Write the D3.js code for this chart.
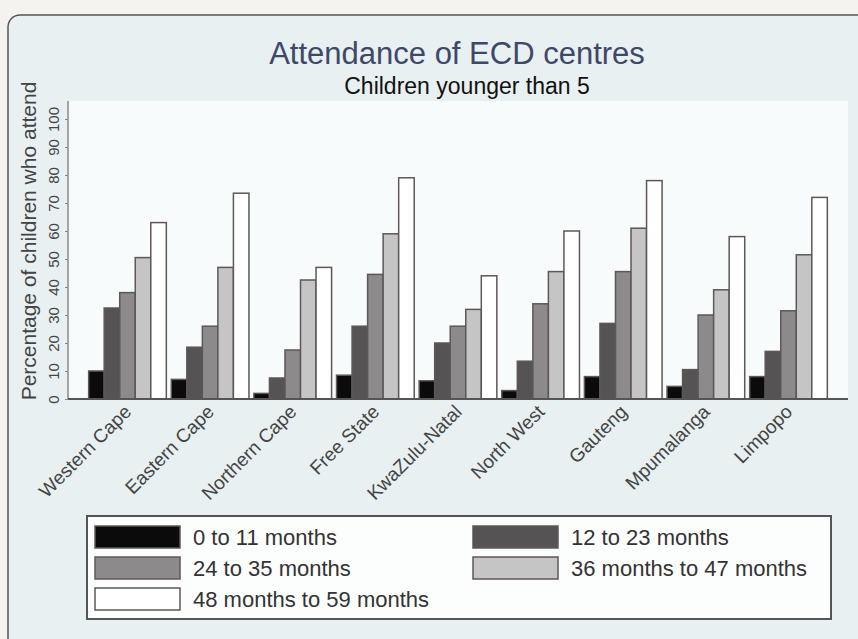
<!DOCTYPE html>
<html>
<head>
<meta charset="utf-8">
<script src="https://cdn.jsdelivr.net/npm/d3@7"></script>
<style>
  html, body { margin: 0; padding: 0; background: #f4f3f0; }
  svg { display: block; }
  text { font-family: "Liberation Sans", Arial, Helvetica, sans-serif; }
</style>
</head>
<body>
<svg id="chart" width="858" height="639"></svg>
<script>
const categories = ["Western Cape", "Eastern Cape", "Northern Cape", "Free State", "KwaZulu-Natal", "North West", "Gauteng", "Mpumalanga", "Limpopo"];
const seriesNames = ["0 to 11 months", "12 to 23 months", "24 to 35 months", "36 months to 47 months", "48 months to 59 months"];
const months0to11 = [10, 7, 2, 8.5, 6.5, 3, 8, 4.5, 8];
const months12to23 = [32.5, 18.5, 7.5, 26, 20, 13.5, 27, 10.5, 17];
const months24to35 = [38, 26, 17.5, 44.5, 26, 34, 45.5, 30, 31.5];
const months36to47 = [50.5, 47, 42.5, 59, 32, 45.5, 61, 39, 51.5];
const months48to59 = [63, 73.5, 47, 79, 44, 60, 78, 58, 72];
const yTicks = [0, 10, 20, 30, 40, 50, 60, 70, 80, 90, 100];
const seriesColors = ["#0b0b0b", "#555353", "#8c8a8a", "#c6c5c5", "#ffffff"];

const seriesValues = [months0to11, months12to23, months24to35, months36to47, months48to59];

const svg = d3.select("#chart");

// page / frame
svg.append("rect").attr("x", 0).attr("y", 0).attr("width", 858).attr("height", 639).attr("fill", "#f4f3f0");
svg.append("rect").attr("x", 8).attr("y", 15).attr("width", 900).attr("height", 700)
  .attr("rx", 12).attr("fill", "#e8f0f2").attr("stroke", "#555").attr("stroke-width", 1.5);

const plotLeft = 68, plotRight = 848, plotTop = 101, plotBottom = 399;

// plot region
svg.append("rect").attr("x", plotLeft).attr("y", plotTop).attr("width", plotRight - plotLeft).attr("height", plotBottom - plotTop)
  .attr("fill", "#f8fbfb");

const x0 = d3.scaleBand().domain(categories).range([plotLeft, plotRight]).paddingInner(0.06).paddingOuter(0.25);
const x1 = d3.scaleBand().domain(d3.range(seriesNames.length)).range([0, x0.bandwidth()]);
const y = d3.scaleLinear().domain([0, 100]).range([plotBottom, 119]);

// bars
const groups = svg.append("g").selectAll("g").data(categories).join("g")
  .attr("transform", d => `translate(${x0(d)},0)`);
groups.selectAll("rect").data((c, i) => seriesValues.map((s, k) => ({ k, v: s[i] }))).join("rect")
  .attr("x", d => x1(d.k))
  .attr("width", x1.bandwidth())
  .attr("y", d => y(d.v))
  .attr("height", d => y(0) - y(d.v))
  .attr("fill", d => seriesColors[d.k])
  .attr("stroke", "#5f5757")
  .attr("stroke-width", 1.5);

// y axis
const yAxis = svg.append("g").attr("transform", `translate(${plotLeft},0)`)
  .call(d3.axisLeft(y).tickValues(yTicks).tickSize(3).tickPadding(4));
yAxis.select(".domain").attr("d", `M0,${plotTop}V${plotBottom}`).attr("stroke", "#8a8a8a").attr("stroke-width", 1.5);
yAxis.selectAll(".tick line").attr("stroke", "#8a8a8a");
yAxis.selectAll(".tick text")
  .attr("font-size", 15).attr("fill", "#444")
  .attr("text-anchor", "middle")
  .attr("x", 0).attr("dy", 0)
  .attr("transform", "translate(-9,0) rotate(-90)");

// x baseline
const xAxis = svg.append("g").attr("transform", `translate(0,${plotBottom})`)
  .call(d3.axisBottom(x0).tickSize(0).tickPadding(0));
xAxis.select(".domain").attr("d", `M${plotLeft},0H${plotRight}`).attr("stroke", "#555").attr("stroke-width", 2);
xAxis.selectAll(".tick text")
  .attr("font-size", 19).attr("fill", "#444")
  .attr("text-anchor", "end")
  .attr("y", 0).attr("dy", 0)
  .attr("transform", "translate(5,14) rotate(-45)");

// titles
svg.append("text").attr("x", 457).attr("y", 64).attr("text-anchor", "middle")
  .attr("font-size", 31).attr("fill", "#3e4868").text("Attendance of ECD centres");
svg.append("text").attr("x", 467).attr("y", 94).attr("text-anchor", "middle")
  .attr("font-size", 23).attr("fill", "#111").text("Children younger than 5");
svg.append("text").attr("transform", "translate(36,241) rotate(-90)").attr("text-anchor", "middle")
  .attr("font-size", 21).attr("fill", "#444").text("Percentage of children who attend");

// legend
const lg = svg.append("g");
lg.append("rect").attr("x", 87).attr("y", 516).attr("width", 744).attr("height", 103)
  .attr("fill", "#fcfdfd").attr("stroke", "#555").attr("stroke-width", 2);
const legendPos = [[95, 526], [473, 526], [95, 557], [473, 557], [95, 588]];
const items = lg.selectAll("g.item").data(seriesNames).join("g").attr("class", "item")
  .attr("transform", (d, i) => `translate(${legendPos[i][0]},${legendPos[i][1]})`);
items.append("rect").attr("width", 85).attr("height", 22)
  .attr("fill", (d, i) => seriesColors[i]).attr("stroke", "#5f5757").attr("stroke-width", 1.5);
items.append("text").attr("x", 98).attr("y", 19).attr("font-size", 22).attr("fill", "#333").text(d => d);
</script>
</body>
</html>
